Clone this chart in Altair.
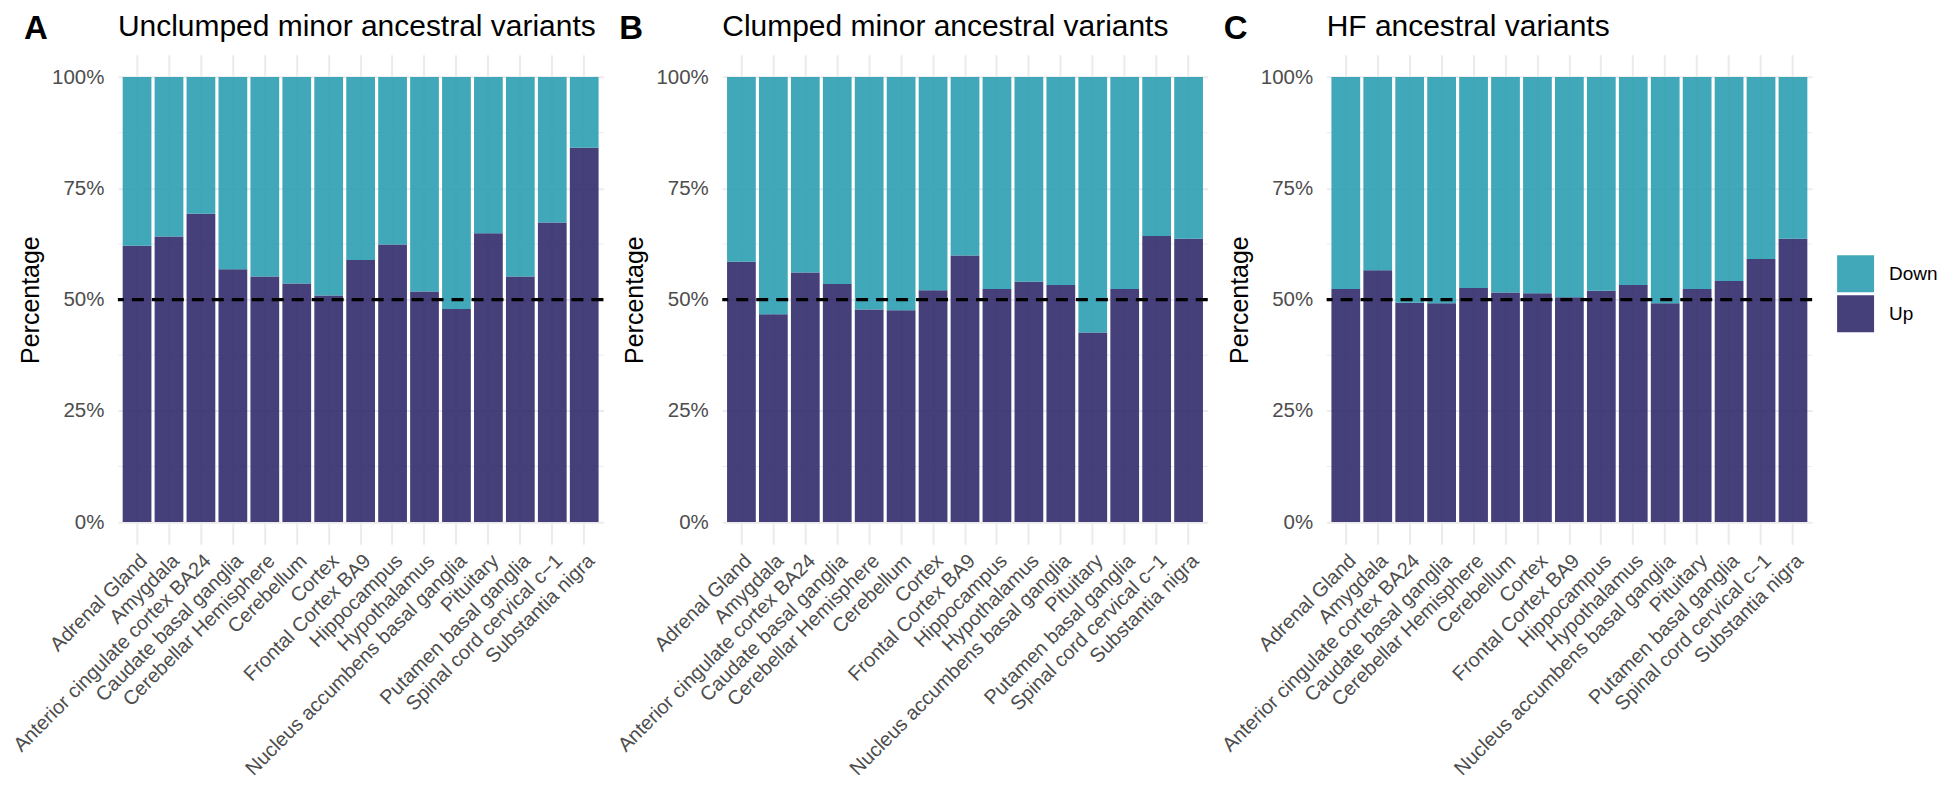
import altair as alt
import pandas as pd

tissues = [
    "Adrenal Gland", "Amygdala", "Anterior cingulate cortex BA24",
    "Caudate basal ganglia", "Cerebellar Hemisphere", "Cerebellum", "Cortex",
    "Frontal Cortex BA9", "Hippocampus", "Hypothalamus",
    "Nucleus accumbens basal ganglia", "Pituitary", "Putamen basal ganglia",
    "Spinal cord cervical c\u22121", "Substantia nigra",
]

# percentage "Up" per tissue (Down = 100 - Up)
up_A = [62.1, 64.2, 69.3, 56.8, 55.2, 53.6, 50.9, 58.9, 62.4, 51.8, 47.9, 64.9, 55.2, 67.3, 84.1]
up_B = [58.5, 46.7, 56.1, 53.5, 47.8, 47.6, 52.1, 59.9, 52.4, 54.0, 53.3, 42.6, 52.4, 64.3, 63.7]
up_C = [52.4, 56.6, 49.3, 49.2, 52.6, 51.6, 51.4, 50.5, 52.0, 53.3, 49.2, 52.4, 54.2, 59.1, 63.7]

panel_letters = ["A", "B", "C"]
panel_titles = [
    "Unclumped minor ancestral variants",
    "Clumped minor ancestral variants",
    "HF ancestral variants",
]
y_ticks = [0, 25, 50, 75, 100]
minor_ticks = [12.5, 37.5, 62.5, 87.5]
ref_line = [50]
directions = ["Down", "Up"]
colors = ["#2B9EB0", "#312A6B"]

FONT = "Liberation Sans"
PW, PH = 486, 490
letter_dx = [-94, -103, -103]


def make_panel(idx, up, show_legend):
    rows = []
    for t, u in zip(tissues, up):
        rows.append({"tissue": t, "direction": "Up", "pct": u, "stack_order": 0})
        rows.append({"tissue": t, "direction": "Down", "pct": round(100 - u, 1), "stack_order": 1})
    df = pd.DataFrame(rows)

    yscale = alt.Scale(domain=[-5, 105], nice=False, zero=False)

    if show_legend:
        legend = alt.Legend(
            title=None, orient="none", legendX=511, legendY=200.6,
            symbolType="square", symbolSize=1369, symbolStrokeWidth=0,
            symbolOpacity=0.9, labelFontSize=19, labelFont=FONT,
            labelColor="black", labelOffset=15, rowPadding=3,
        )
    else:
        legend = None

    minor = alt.Chart(pd.DataFrame({"pct": minor_ticks})).mark_rule(
        color="#EBEBEB", strokeWidth=1
    ).encode(y=alt.Y("pct:Q", scale=yscale))

    bars = alt.Chart(df).mark_bar(opacity=0.9).encode(
        x=alt.X(
            "tissue:N", sort=tissues,
            scale=alt.Scale(paddingInner=0.1, paddingOuter=0.15),
            axis=alt.Axis(
                title=None, labelAngle=-45, labelAlign="right", labelBaseline="top",
                labelFontSize=20, labelFont=FONT, labelColor="#4D4D4D",
                labelPadding=6, labelLimit=0, labelOverlap=False,
                grid=True, gridColor="#EBEBEB", gridWidth=2, bandPosition=0.5,
                ticks=False, tickSize=0, domain=False,
            ),
        ),
        y=alt.Y(
            "pct:Q", stack="zero", scale=yscale,
            axis=alt.Axis(
                title="Percentage", values=y_ticks, labelExpr="datum.value + '%'",
                labelFontSize=20.5, labelFont=FONT, labelColor="#4D4D4D",
                labelPadding=14, titleFontSize=25, titleFont=FONT,
                titleFontWeight="normal", titleColor="black", titlePadding=8,
                grid=True, gridColor="#EBEBEB", gridWidth=2,
                ticks=False, tickSize=0, domain=False,
            ),
        ),
        color=alt.Color(
            "direction:N",
            scale=alt.Scale(domain=directions, range=colors),
            legend=legend,
        ),
        order=alt.Order("stack_order:Q"),
    )

    dashed = alt.Chart(pd.DataFrame({"pct": ref_line})).mark_rule(
        color="black", strokeWidth=3.3, strokeDash=[12, 8]
    ).encode(y=alt.Y("pct:Q", scale=yscale))

    letter = alt.Chart(pd.DataFrame({"t": [panel_letters[idx]]})).mark_text(
        font=FONT, fontSize=33, fontWeight="bold", align="left",
        baseline="alphabetic", color="black",
    ).encode(x=alt.value(letter_dx[idx]), y=alt.value(-16), text="t:N")

    title = alt.Chart(pd.DataFrame({"t": [panel_titles[idx]]})).mark_text(
        font=FONT, fontSize=30, align="left", baseline="alphabetic", color="black",
    ).encode(x=alt.value(0), y=alt.value(-18.5), text="t:N")

    return alt.layer(minor, bars, dashed, letter, title).properties(width=PW, height=PH)


pA = make_panel(0, up_A, False)
pB = make_panel(1, up_B, False)
pC = make_panel(2, up_C, True)

chart = alt.hconcat(pA, pB, pC, spacing=119, bounds="flush").resolve_scale(
    color="independent"
).properties(
    padding={"left": 1, "top": 3.5, "right": 0, "bottom": 0},
    background="white",
).configure_view(stroke=None)

chart.save("out.html", embed_options={"renderer": "svg", "actions": False})
